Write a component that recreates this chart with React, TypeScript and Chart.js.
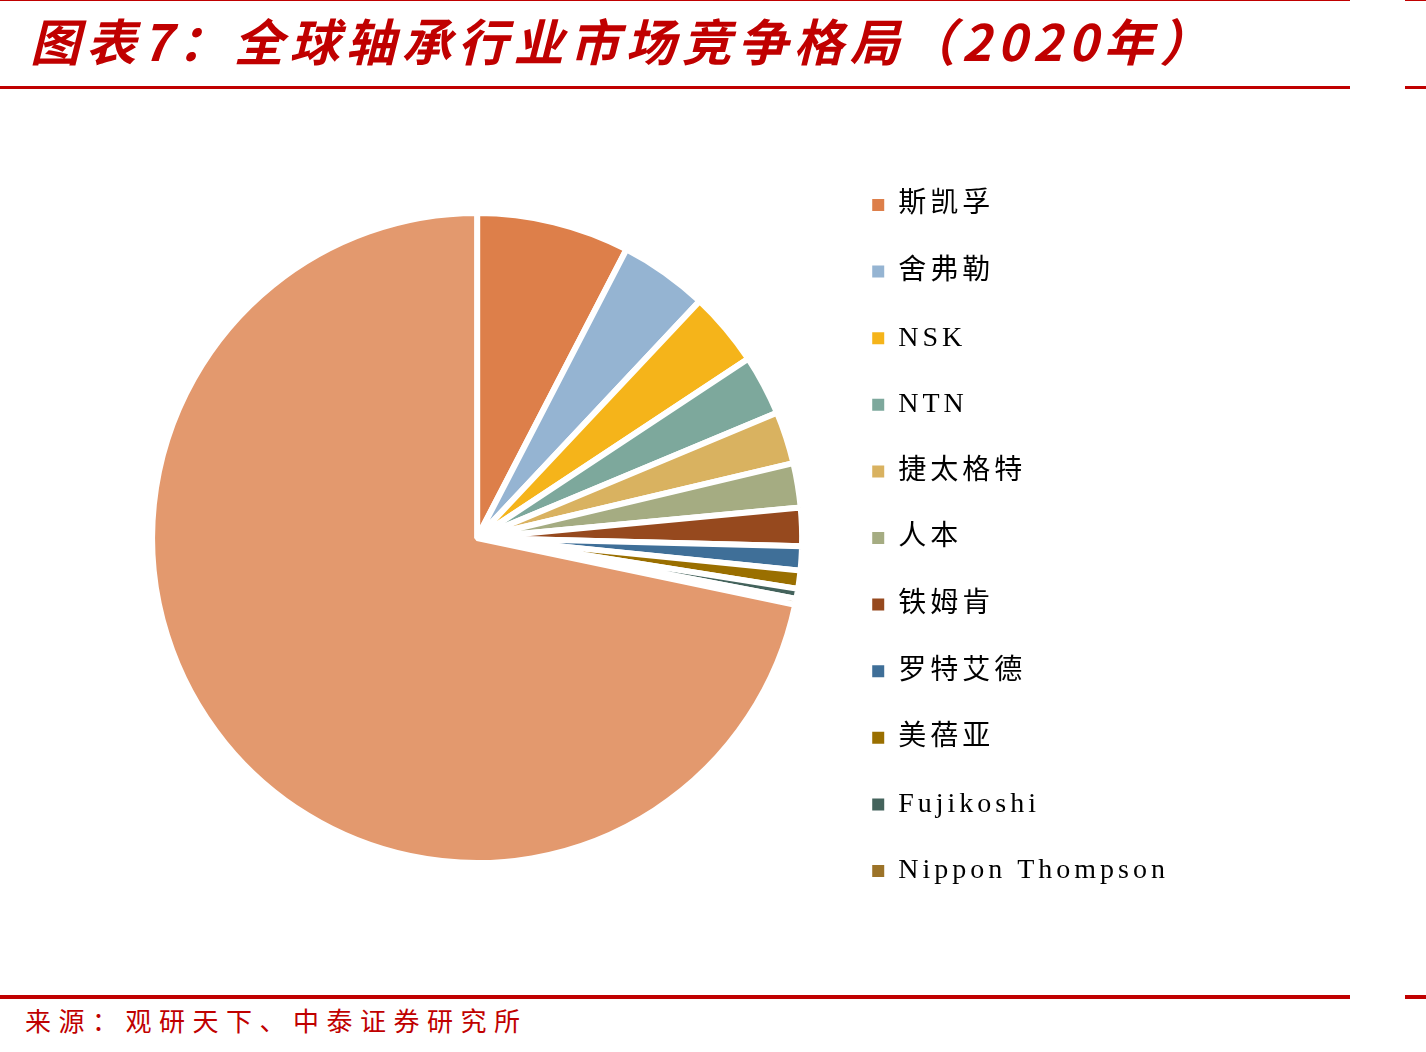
import React, { useEffect, useRef } from 'react';
import { Chart, registerables } from 'chart.js';

Chart.register(...registerables);

// ---- data ----
const categories = ['斯凯孚', '舍弗勒', 'NSK', 'NTN', '捷太格特', '人本', '铁姆肯', '罗特艾德', '美蓓亚', 'Fujikoshi', 'Nippon Thompson', '其他'];
const shares = [7.6, 4.4, 3.7, 3.0, 2.6, 2.2, 1.9, 1.2, 0.9, 0.5, 0.3, 71.7];
const sliceColors = ['#DD7F4A', '#95B4D2', '#F5B41A', '#7DA89C', '#D9B260', '#A5AC82', '#96491E', '#3F6F98', '#9A6F00', '#44635C', '#9C7328', '#E3996E'];
const hiddenLegendItems = ['其他'];
const titleText = '图表7：全球轴承行业市场竞争格局（2020年）';
const sourceText = '来源：观研天下、中泰证券研究所';

const RED = '#C00000';

const letterSpacingPlugin = {
  id: 'legendLetterSpacing',
  beforeLayout(chart: any) {
    chart.ctx.letterSpacing = '4px';
  },
  beforeDraw(chart: any) {
    chart.ctx.letterSpacing = '4px';
  },
};

function PieChart() {
  const ref = useRef<HTMLCanvasElement | null>(null);
  useEffect(() => {
    if (!ref.current) return;
    const baseGen = (Chart as any).overrides.doughnut.plugins.legend.labels.generateLabels;
    const chart = new Chart(ref.current, {
      type: 'pie',
      data: {
        labels: categories,
        datasets: [
          {
            data: shares,
            backgroundColor: sliceColors,
            borderColor: '#FFFFFF',
            borderWidth: 6,
            radius: 325,
          } as any,
        ],
      },
      options: {
        animation: false,
        responsive: true,
        maintainAspectRatio: false,
        layout: { padding: { left: 120.6, right: 247, top: 0, bottom: 0 } },
        plugins: {
          tooltip: { enabled: false },
          title: { display: false },
          legend: {
            display: true,
            position: 'right',
            labels: {
              boxWidth: 12,
              boxHeight: 12,
              padding: 38.6,
              color: '#000000',
              font: { family: "'Liberation Serif', 'Noto Sans CJK SC', serif", size: 28 },
              generateLabels: (c: any) =>
                baseGen(c)
                  .filter((it: any) => !hiddenLegendItems.includes(it.text))
                  .map((it: any) => ({ ...it, lineWidth: 0, strokeStyle: 'rgba(0,0,0,0)' })),
            },
          },
        },
      },
      plugins: [letterSpacingPlugin],
    });
    return () => chart.destroy();
  }, []);
  return <canvas ref={ref} />;
}

export default function App() {
  return (
    <div style={{ position: 'absolute', left: 0, top: 0, width: 1426, height: 1052, background: '#fff', overflow: 'hidden' }}>
      <div style={{ position: 'absolute', left: 0, top: 0, width: 1350, height: 1, background: RED }} />
      <div style={{ position: 'absolute', left: 1405, top: 0, width: 21, height: 1, background: RED }} />
      <div
        style={{
          position: 'absolute',
          left: 30,
          top: 14,
          fontFamily: "'Noto Sans CJK SC', sans-serif",
          fontWeight: 700,
          fontStyle: 'italic',
          fontSize: 50,
          lineHeight: '50px',
          letterSpacing: 6,
          color: RED,
          whiteSpace: 'nowrap',
        }}
      >
        {titleText}
      </div>
      <div style={{ position: 'absolute', left: 0, top: 86, width: 1350, height: 3, background: RED }} />
      <div style={{ position: 'absolute', left: 1405, top: 86, width: 21, height: 3, background: RED }} />
      <div style={{ position: 'absolute', left: 0, top: 138, width: 1426, height: 800 }}>
        <PieChart />
      </div>
      <div style={{ position: 'absolute', left: 0, top: 995, width: 1350, height: 4, background: RED }} />
      <div style={{ position: 'absolute', left: 1405, top: 995, width: 21, height: 4, background: RED }} />
      <div
        style={{
          position: 'absolute',
          left: 25,
          top: 1006,
          fontFamily: "'Noto Sans CJK SC', sans-serif",
          fontSize: 26,
          lineHeight: '28px',
          letterSpacing: 7.5,
          color: RED,
          whiteSpace: 'nowrap',
        }}
      >
        {sourceText}
      </div>
    </div>
  );
}
